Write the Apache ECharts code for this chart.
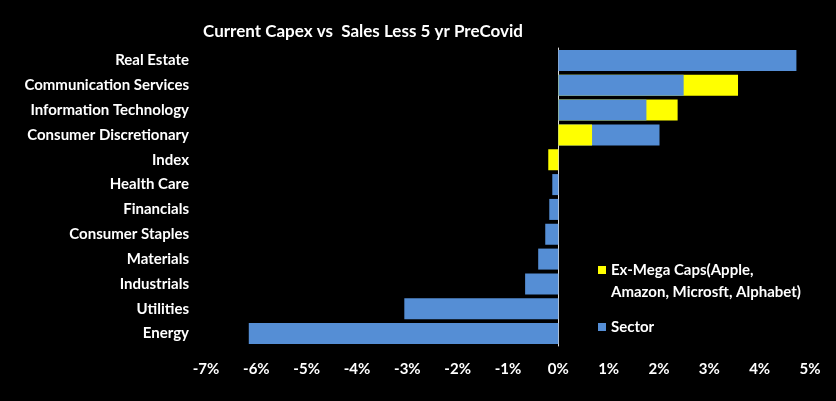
<!DOCTYPE html>
<html>
<head>
<meta charset="utf-8">
<script src="https://cdn.jsdelivr.net/npm/echarts@6/dist/echarts.min.js"></script>
<style>
html,body{margin:0;padding:0;background:#000;}
#chart{width:836px;height:401px;}
</style>
</head>
<body>
<div id="chart"></div>
<script>
const categories = ['Real Estate','Communication Services','Information Technology','Consumer Discretionary','Index','Health Care','Financials','Consumer Staples','Materials','Industrials','Utilities','Energy'];
const sector = [4.73, 2.49, 1.75, 2.01, null, -0.12, -0.18, -0.26, -0.40, -0.66, -3.06, -6.15];
const exMega = [null, 3.57, 2.37, 0.67, -0.20, null, null, null, null, null, null, null];
const xTicks = [-7, -6, -5, -4, -3, -2, -1, 0, 1, 2, 3, 4, 5];

const exName = 'Ex-Mega Caps(Apple,\nAmazon, Microsft, Alphabet)';
const blue = '#558ed5', yellow = '#ffff00';
const FONT = 'Lato';

// yellow drawn behind blue where it is longer, in front where it is shorter
const exBehind = exMega.map((v, i) => (v != null && sector[i] != null && Math.abs(v) > Math.abs(sector[i])) ? v : null);
const exFront = exMega.map((v, i) => (v != null && !(sector[i] != null && Math.abs(v) > Math.abs(sector[i]))) ? v : null);

const chart = echarts.init(document.getElementById('chart'), null, {renderer: 'canvas'});
chart.setOption({
  backgroundColor: '#000',
  animation: false,
  title: {
    text: 'Current Capex vs  Sales Less 5 yr PreCovid',
    left: 358, top: 18, textAlign: 'center',
    textStyle: {color: '#fff', fontFamily: FONT, fontWeight: 'bold', fontSize: 17}
  },
  legend: {
    orient: 'vertical', left: 593, top: 232,
    data: [exName, 'Sector'],
    formatter: n => n === exName ? '\n' + n : n,
    itemWidth: 8, itemHeight: 8, itemGap: 13,
    icon: 'rect',
    textStyle: {color: '#fff', fontFamily: FONT, fontWeight: 'bold', fontSize: 15, lineHeight: 22},
    selectedMode: false
  },
  grid: {left: 206, right: 26, top: 48, bottom: 55, containLabel: false},
  xAxis: {
    type: 'value', min: xTicks[0], max: xTicks[xTicks.length - 1], interval: 1,
    axisLine: {show: false}, axisTick: {show: false}, splitLine: {show: false},
    axisLabel: {formatter: '{value}%', color: '#fff', fontFamily: FONT, fontWeight: 'bold', fontSize: 15, margin: 16}
  },
  yAxis: {
    type: 'category', data: categories, inverse: true,
    axisLine: {show: true, onZero: true, lineStyle: {color: '#d9d9d9', width: 1}},
    axisTick: {show: false},
    axisLabel: {color: '#fff', fontFamily: FONT, fontWeight: 'bold', fontSize: 15, margin: 17}
  },
  series: [
    {name: exName, type: 'bar', data: exBehind, barWidth: 21, barGap: '-100%', itemStyle: {color: yellow}, z: 1},
    {name: 'Sector', type: 'bar', data: sector, barWidth: 21, barGap: '-100%', itemStyle: {color: blue}, z: 2},
    {name: exName, type: 'bar', data: exFront, barWidth: 21, barGap: '-100%', itemStyle: {color: yellow}, z: 3}
  ]
});
</script>
</body>
</html>
